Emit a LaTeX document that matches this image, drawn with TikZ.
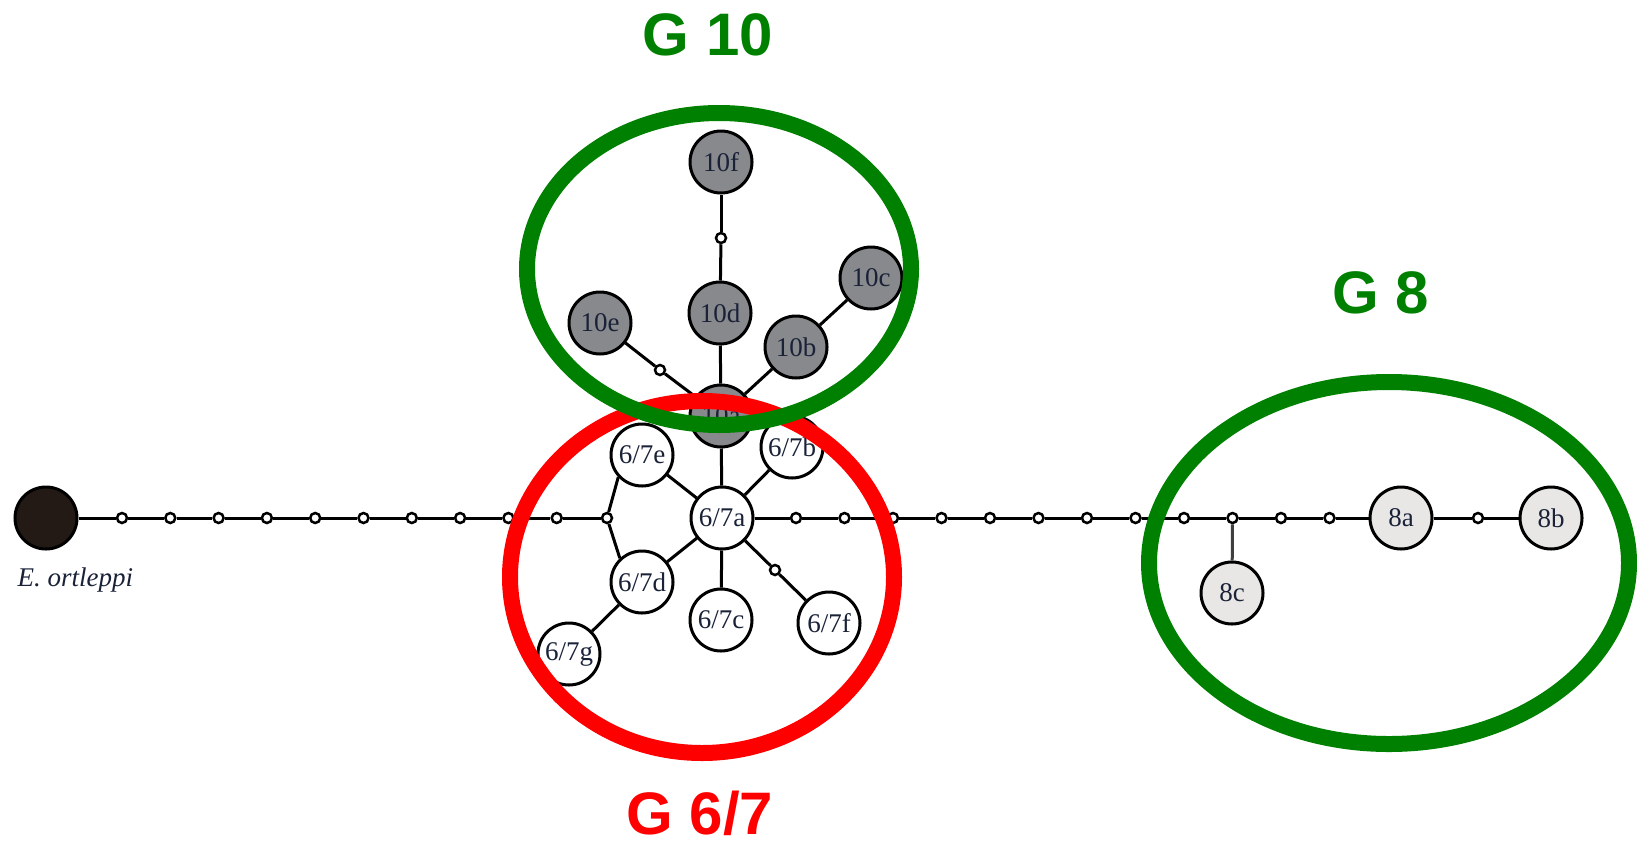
\documentclass[tikz,border=0pt]{standalone}
\usepackage{fontspec}
\setmainfont{Liberation Serif}
\newfontfamily\grpfont{Liberation Sans}
\definecolor{haptext}{HTML}{1A2238}
\definecolor{tenfill}{HTML}{88898D}
\definecolor{eightfill}{HTML}{E8E7E5}
\definecolor{outfill}{HTML}{231A15}
\definecolor{grpgreen}{HTML}{008000}
\definecolor{grpred}{HTML}{FF0000}
\begin{document}
\begin{tikzpicture}[x=1pt,y=-1pt,
  hap/.style={circle, draw=black, line width=3pt, minimum size=62pt, inner sep=0pt,
    font=\fontsize{27}{27}\selectfont, text=haptext},
  hapten/.style={hap, fill=tenfill},
  hapeight/.style={hap, fill=eightfill},
  hapsix/.style={hap, fill=white},
  mv/.style={circle, draw=black, line width=2.5pt, fill=white, minimum size=10pt, inner sep=0pt},
  link/.style={line width=3pt, black},
  grp/.style={line width=16pt},
  grplabel/.style={font=\grpfont\bfseries\fontsize{60}{60}\selectfont, anchor=base, inner sep=0pt}
]
\useasboundingbox (0,0) rectangle (1637,844);

% outgroup
\node[hap, fill=outfill] (eo) at (46,518) {};
\node[anchor=base west, font=\itshape\fontsize{27}{27}\selectfont, text=haptext] (eolab) at (14,586) {E. ortleppi};

% missing haplotypes along the left branch
\foreach \i in {1,...,10} {
  \node[mv] (l\i) at ({122+48.3*(\i-1)},518) {};
}
\node[mv] (j) at (607,518) {};

% group 6/7
\node[hapsix] (a67) at (722,518) {6/7a};
\node[hapsix] (b67) at (792,447) {6/7b};
\node[hapsix] (c67) at (721,620) {6/7c};
\node[hapsix] (d67) at (642,582) {6/7d};
\node[hapsix] (e67) at (642,455) {6/7e};
\node[hapsix] (f67) at (829,623) {6/7f};
\node[hapsix] (g67) at (569,654) {6/7g};
\node[mv] (sf) at (775,570) {};

% group 10
\node[hapten] (a10) at (721,416) {10a};
\node[hapten] (b10) at (796,347) {10b};
\node[hapten] (c10) at (871,278) {10c};
\node[hapten] (d10) at (720,313) {10d};
\node[hapten] (e10) at (600,323) {10e};
\node[hapten] (f10) at (721,162) {10f};
\node[mv] (sdf) at (721,238) {};
\node[mv] (sea) at (660,370) {};

% missing haplotypes along the right branch
\foreach \i in {1,...,12} {
  \node[mv] (r\i) at ({796+48.5*(\i-1)},518) {};
}

% group 8
\node[hapeight] (a8) at (1401,518) {8a};
\node[hapeight] (b8) at (1551,518) {8b};
\node[hapeight] (c8) at (1232,593) {8c};
\node[mv] (sab) at (1478,518) {};

% connectors
\draw[link] (eo) -- (l1);
\foreach \a/\b in {l1/l2,l2/l3,l3/l4,l4/l5,l5/l6,l6/l7,l7/l8,l8/l9,l9/l10,l10/j} {
  \draw[link] (\a) -- (\b);
}
\draw[link] (j) -- (e67.223);
\draw[link] (j) -- (d67.133);
\draw[link] (e67) -- (a67);
\draw[link] (d67) -- (a67);
\draw[link] (d67) -- (g67);
\draw[link] (a67) -- (b67);
\draw[link] (a67) -- (c67);
\draw[link] (a67) -- (sf) -- (f67);
\draw[link] (a67) -- (a10);
\draw[link] (a10) -- (d10);
\draw[link] (d10) -- (sdf);
\draw[link] (sdf) -- (f10);
\draw[link] (a10) -- (b10);
\draw[link] (b10) -- (c10);
\draw[link] (a10) -- (sea);
\draw[link] (sea) -- (e10);
\draw[link] (a67) -- (r1);
\foreach \a/\b in {r1/r2,r2/r3,r3/r4,r4/r5,r5/r6,r6/r7,r7/r8,r8/r9,r9/r10,r10/r11,r11/r12} {
  \draw[link] (\a) -- (\b);
}
\draw[link] (r12) -- (a8);
\draw[link] (a8) -- (sab);
\draw[link] (sab) -- (b8);
\draw[link, draw=black!75] (r10) -- (c8);

% group outlines
\draw[grp, grpred] (702,577) ellipse [x radius=192, y radius=176];
\draw[grp, grpgreen] (719,269) ellipse [x radius=192, y radius=156];
\draw[grp, grpgreen] (1389,563) ellipse [x radius=240, y radius=181];

% group labels
\node[grplabel, text=grpgreen] (lab10) at (708,55) {G 10};
\node[grplabel, text=grpgreen] (lab8) at (1381,313) {G 8};
\node[grplabel, text=grpred] (lab67) at (700,834) {G 6/7};
\end{tikzpicture}
\end{document}
